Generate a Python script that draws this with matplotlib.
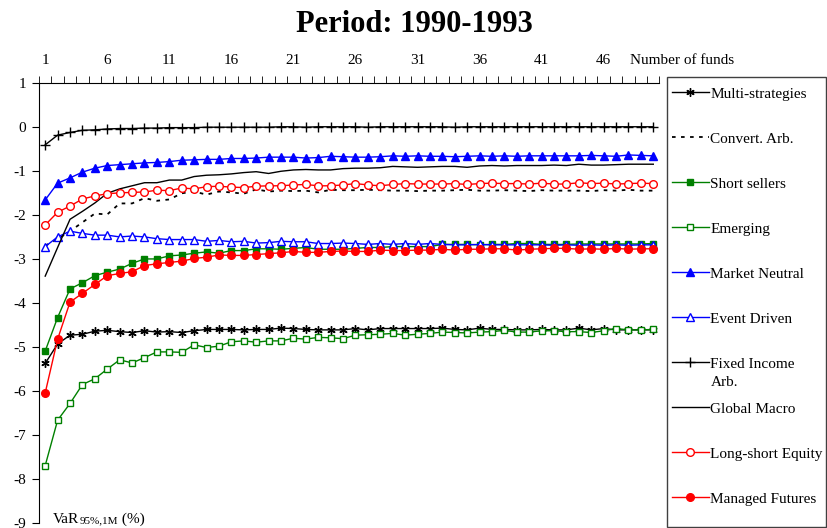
import numpy as np
import matplotlib
matplotlib.use("Agg")
import matplotlib.pyplot as plt
from matplotlib.patches import Rectangle
from matplotlib.offsetbox import TextArea, HPacker, AnchoredOffsetbox

plt.rcParams['font.family'] = ['Liberation Serif', 'DejaVu Serif']
plt.rcParams['axes.unicode_minus'] = False

# number of funds in the portfolio
funds = np.arange(1, 51)

# VaR 95%, 1 month (%) per strategy
multi_strat = [-5.37, -4.93, -4.73, -4.71, -4.64, -4.62, -4.65, -4.67, -4.63, -4.66,
               -4.65, -4.67, -4.63, -4.60, -4.60, -4.60, -4.61, -4.60, -4.60, -4.57,
               -4.58, -4.60, -4.61, -4.61, -4.61, -4.58, -4.61, -4.58, -4.58, -4.58,
               -4.58, -4.58, -4.57, -4.60, -4.61, -4.57, -4.60, -4.60, -4.61, -4.61,
               -4.60, -4.61, -4.61, -4.57, -4.61, -4.58, -4.61, -4.61, -4.61, -4.61]
convert_arb = [-2.70, -2.55, -2.37, -2.17, -1.97, -1.99, -1.74, -1.74, -1.62, -1.68,
               -1.65, -1.51, -1.47, -1.54, -1.47, -1.49, -1.52, -1.42, -1.47, -1.45,
               -1.46, -1.45, -1.49, -1.43, -1.44, -1.44, -1.43, -1.44, -1.45, -1.45,
               -1.46, -1.45, -1.45, -1.44, -1.43, -1.45, -1.45, -1.44, -1.45, -1.46,
               -1.44, -1.45, -1.45, -1.45, -1.46, -1.44, -1.45, -1.43, -1.45, -1.45]
short_sellers = [-5.09, -4.33, -3.68, -3.54, -3.38, -3.30, -3.23, -3.10, -3.00, -3.00,
                 -2.93, -2.91, -2.87, -2.84, -2.87, -2.81, -2.81, -2.77, -2.77, -2.78,
                 -2.76, -2.74, -2.78, -2.78, -2.78, -2.76, -2.74, -2.74, -2.72, -2.72,
                 -2.72, -2.72, -2.67, -2.67, -2.67, -2.68, -2.67, -2.67, -2.65, -2.65,
                 -2.67, -2.67, -2.67, -2.66, -2.66, -2.66, -2.66, -2.66, -2.66, -2.65]
emerging = [-7.69, -6.66, -6.28, -5.85, -5.72, -5.50, -5.29, -5.36, -5.24, -5.11,
            -5.11, -5.12, -4.95, -5.01, -4.98, -4.88, -4.86, -4.89, -4.86, -4.86,
            -4.80, -4.82, -4.78, -4.79, -4.81, -4.73, -4.72, -4.71, -4.69, -4.73,
            -4.71, -4.69, -4.66, -4.67, -4.68, -4.66, -4.65, -4.62, -4.66, -4.66,
            -4.63, -4.63, -4.65, -4.65, -4.67, -4.63, -4.58, -4.61, -4.61, -4.60]
market_neutral = [-1.66, -1.28, -1.16, -1.03, -0.94, -0.88, -0.86, -0.84, -0.82, -0.81,
                  -0.79, -0.76, -0.75, -0.74, -0.74, -0.72, -0.72, -0.71, -0.69, -0.69,
                  -0.69, -0.71, -0.70, -0.67, -0.68, -0.69, -0.69, -0.68, -0.66, -0.67,
                  -0.66, -0.67, -0.67, -0.68, -0.67, -0.66, -0.67, -0.66, -0.67, -0.66,
                  -0.66, -0.66, -0.66, -0.66, -0.65, -0.66, -0.67, -0.64, -0.65, -0.66]
event_driven = [-2.72, -2.50, -2.37, -2.42, -2.46, -2.46, -2.50, -2.48, -2.50, -2.54,
                -2.56, -2.56, -2.56, -2.60, -2.58, -2.61, -2.60, -2.64, -2.63, -2.60,
                -2.61, -2.61, -2.65, -2.65, -2.64, -2.65, -2.67, -2.65, -2.67, -2.65,
                -2.67, -2.65, -2.67, -2.68, -2.68, -2.67, -2.68, -2.68, -2.68, -2.68,
                -2.68, -2.69, -2.68, -2.69, -2.68, -2.69, -2.68, -2.69, -2.68, -2.68]
fixed_income = [-0.41, -0.19, -0.13, -0.08, -0.07, -0.05, -0.04, -0.04, -0.03, -0.03,
                -0.02, -0.02, -0.02, -0.01, -0.01, -0.01, -0.01, -0.01, -0.01, 0.00,
                0.00, -0.01, 0.00, 0.00, 0.00, 0.00, -0.01, 0.00, 0.00, 0.00,
                0.00, 0.00, 0.00, -0.01, 0.00, 0.00, 0.00, 0.00, 0.00, 0.00,
                0.00, 0.00, 0.00, 0.00, 0.00, 0.00, 0.00, 0.00, 0.00, 0.00]
global_macro = [-3.39, -2.74, -2.10, -1.92, -1.73, -1.51, -1.41, -1.34, -1.27, -1.27,
                -1.21, -1.21, -1.13, -1.10, -1.09, -1.07, -1.04, -1.02, -1.06, -1.01,
                -0.98, -0.97, -0.98, -0.98, -0.95, -0.94, -0.94, -0.93, -0.90, -0.91,
                -0.92, -0.91, -0.90, -0.90, -0.92, -0.89, -0.88, -0.89, -0.88, -0.88,
                -0.88, -0.87, -0.88, -0.85, -0.87, -0.87, -0.86, -0.85, -0.85, -0.85]
long_short = [-2.23, -1.94, -1.80, -1.64, -1.57, -1.52, -1.50, -1.49, -1.48, -1.44,
              -1.45, -1.39, -1.41, -1.36, -1.35, -1.37, -1.38, -1.35, -1.34, -1.34,
              -1.32, -1.31, -1.34, -1.34, -1.32, -1.29, -1.32, -1.34, -1.31, -1.29,
              -1.30, -1.30, -1.30, -1.29, -1.31, -1.29, -1.28, -1.29, -1.29, -1.30,
              -1.28, -1.30, -1.30, -1.27, -1.29, -1.28, -1.30, -1.29, -1.28, -1.29]
managed_fut = [-6.04, -4.82, -3.98, -3.78, -3.58, -3.38, -3.33, -3.29, -3.15, -3.11,
               -3.08, -3.05, -2.99, -2.96, -2.91, -2.92, -2.92, -2.90, -2.88, -2.86,
               -2.83, -2.85, -2.85, -2.83, -2.82, -2.83, -2.83, -2.80, -2.81, -2.81,
               -2.80, -2.80, -2.78, -2.80, -2.78, -2.78, -2.77, -2.77, -2.80, -2.78,
               -2.77, -2.76, -2.76, -2.78, -2.77, -2.78, -2.76, -2.78, -2.77, -2.77]

green = '#008000'
red = '#ff0000'
blue = '#0000ff'

fig = plt.figure(figsize=(8.28, 5.28), dpi=100)
ax = fig.add_axes([39 / 828, 1 - 523.3 / 528, (659.5 - 39) / 828, (523.3 - 82.7) / 528])

lw = 1.0
series = [
    (multi_strat, 'Multi-strategies', dict(color='k', marker=(6, 2, 0), ms=6, mew=1.0)),
    (convert_arb, 'Convert. Arb.', dict(color='k', ls=(0, (2, 3)), lw=1.3)),
    (short_sellers, 'Short sellers', dict(color=green, marker='s', ms=5)),
    (emerging, 'Emerging', dict(color=green, marker='s', ms=5, mfc='white', mew=1.0)),
    (market_neutral, 'Market Neutral', dict(color=blue, marker='^', ms=6)),
    (event_driven, 'Event Driven', dict(color=blue, marker='^', ms=6, mfc='white', mew=1.0)),
    (fixed_income, 'Fixed Income', dict(color='k', marker='+', ms=7, mew=1.0)),
    (global_macro, 'Global Macro', dict(color='k')),
    (long_short, 'Long-short Equity', dict(color=red, marker='o', ms=5.5, mfc='white', mew=1.0)),
    (managed_fut, 'Managed Futures', dict(color=red, marker='o', ms=5.5)),
]
handles = []
for vals, name, style in series:
    style.setdefault('lw', lw)
    h, = ax.plot(funds, vals, label=name, clip_on=False, **style)
    handles.append(h)

ax.set_xlim(0.5, 50.5)
ax.set_ylim(-9, 1)
ax.xaxis.tick_top()
ax.set_xticks(np.arange(1, 51, 5))
ax.set_xticks(np.arange(0.5, 51, 1), minor=True)
ax.tick_params(axis='x', which='major', length=0, pad=11, labelsize=11)
ax.tick_params(axis='x', which='minor', length=5, direction='out', top=True, bottom=False)
ax.set_yticks(np.arange(-9, 2))
ax.tick_params(axis='y', direction='out', length=5, pad=4, labelsize=11)
ax.spines['bottom'].set_visible(False)
ax.spines['right'].set_visible(False)

fig.text(630 / 828, 1 - 64 / 528, 'Number of funds', fontsize=11, va='baseline', ha='left')
fig.text(0.5, 1 - 24 / 528, 'Period: 1990-1993', fontsize=22, fontweight='bold',
         ha='center', va='center')

# y-axis label inside the plot: VaR with small 95%,1M
var_box = HPacker(children=[TextArea('VaR', textprops=dict(size=11)),
                            TextArea('95%,1M', textprops=dict(size=8)),
                            TextArea(' (%)', textprops=dict(size=11))],
                  align='baseline', pad=0, sep=0)
ax.add_artist(AnchoredOffsetbox(loc='lower left', child=var_box, pad=0, borderpad=0,
                                frameon=False, bbox_to_anchor=(53 / 828, 2 / 528),
                                bbox_transform=fig.transFigure))

# legend
leg = ax.legend(handles=handles, loc='upper left', bbox_to_anchor=(672 / 828, 1 - 87 / 528),
                bbox_transform=fig.transFigure, frameon=False, fontsize=11,
                borderpad=0, borderaxespad=0, handlelength=2.42, handletextpad=0.1,
                labelspacing=2.05, numpoints=1)
fi_text = leg.get_texts()[6]
ax.annotate('Arb.', xy=(0, 0), xycoords=fi_text, xytext=(0, -3.5), textcoords='offset points',
            fontsize=11, va='top', ha='left', zorder=6)
fig.add_artist(Rectangle((667 / 828, 1 - 527 / 528), (826 - 667) / 828, (527 - 77) / 528,
                         transform=fig.transFigure, fill=False, ec='#404040', lw=1.0))

fig.savefig('out.png', dpi=100)
